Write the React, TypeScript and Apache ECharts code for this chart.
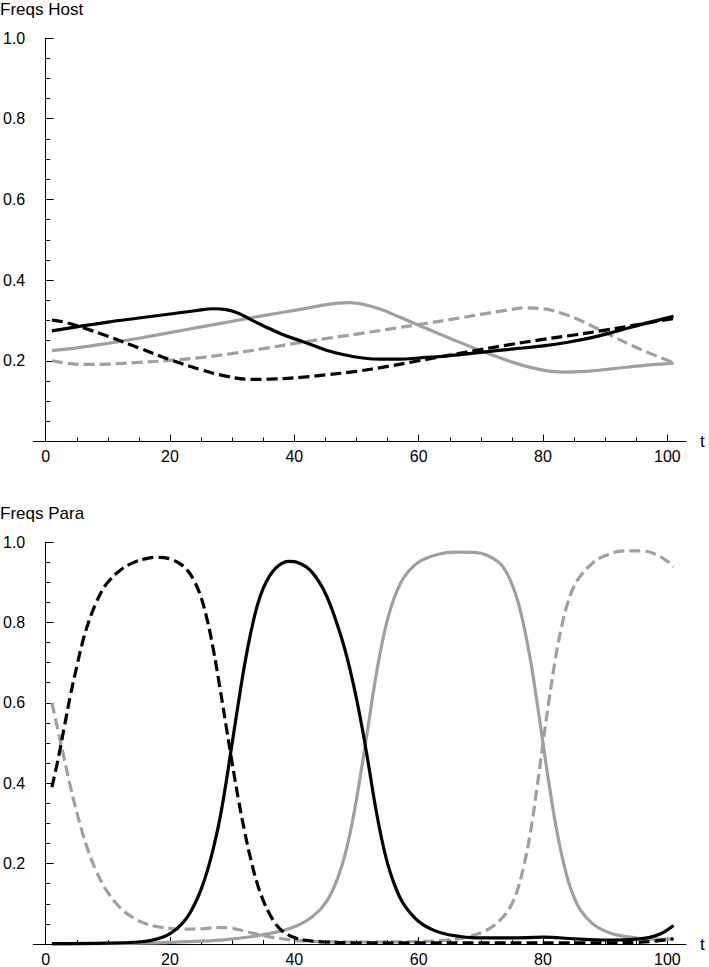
import React, { useEffect, useRef } from 'react';
import * as echarts from 'echarts';

// ---------- data ----------
const titles = ['Freqs Host', 'Freqs Para'];
const xAxisName = 't';
const majorXTicks = [0, 20, 40, 60, 80, 100];
const minorXTicks = [5, 10, 15, 25, 30, 35, 45, 50, 55, 65, 70, 75, 85, 90, 95];

// Host frequencies [t, value]
const hostBlackSolid = [
  [1, 0.274], [5, 0.284], [10, 0.296], [15, 0.306], [20, 0.316], [24, 0.324], [27, 0.329], [29, 0.327],
  [31, 0.318], [33, 0.302], [35, 0.287], [38, 0.266], [42, 0.244], [45, 0.227], [48, 0.215], [51, 0.207],
  [54, 0.204], [57, 0.204], [60, 0.207], [65, 0.213], [70, 0.221], [75, 0.229], [80, 0.237], [84, 0.246],
  [88, 0.258], [92, 0.274], [96, 0.291], [101, 0.31],
];
const hostBlackDashed = [
  [1, 0.301], [3, 0.296], [6, 0.282], [10, 0.261], [15, 0.232], [20, 0.203], [25, 0.178], [29, 0.162],
  [33, 0.154], [37, 0.155], [41, 0.159], [45, 0.165], [50, 0.174], [55, 0.186], [60, 0.2], [65, 0.214],
  [70, 0.228], [75, 0.241], [80, 0.253], [85, 0.264], [90, 0.276], [95, 0.289], [101, 0.305],
];
const hostGraySolid = [
  [1, 0.225], [5, 0.232], [10, 0.243], [15, 0.256], [20, 0.27], [25, 0.284], [30, 0.298], [35, 0.312],
  [40, 0.325], [44, 0.336], [47, 0.343], [49, 0.344], [51, 0.34], [54, 0.327], [57, 0.308], [60, 0.288],
  [65, 0.256], [70, 0.225], [75, 0.197], [79, 0.18], [83, 0.172], [87, 0.174], [91, 0.18], [96, 0.188],
  [101, 0.194],
];
const hostGrayDashed = [
  [1, 0.2], [4, 0.193], [7, 0.191], [10, 0.192], [15, 0.196], [20, 0.201], [25, 0.208], [30, 0.218],
  [35, 0.23], [40, 0.243], [45, 0.255], [50, 0.266], [55, 0.278], [60, 0.29], [65, 0.302], [70, 0.315],
  [74, 0.325], [77, 0.331], [80, 0.329], [83, 0.318], [86, 0.3], [90, 0.27], [95, 0.233], [101, 0.195],
];

// Parasite frequencies [t, value]
const paraBlackDashed = [
  [1, 0.39], [2, 0.46], [3, 0.54], [4, 0.62], [5, 0.69], [6, 0.755], [7, 0.805], [8, 0.845], [9, 0.877],
  [10, 0.9], [12, 0.93], [14, 0.948], [16, 0.958], [18, 0.962], [20, 0.958], [22, 0.942], [23, 0.926],
  [24, 0.9], [25, 0.862], [26, 0.805], [27, 0.73], [28, 0.64], [29, 0.545], [30, 0.45], [31, 0.36],
  [32, 0.28], [33, 0.21], [34, 0.152], [35, 0.108], [36, 0.075], [37, 0.05], [38, 0.033], [40, 0.016],
  [42, 0.009], [45, 0.005], [50, 0.003], [60, 0.003], [70, 0.003], [80, 0.003], [90, 0.003], [95, 0.004],
  [98, 0.007], [101, 0.013],
];
const paraBlackSolid = [
  [1, 0.001], [10, 0.002], [15, 0.005], [17, 0.009], [19, 0.018], [20, 0.026], [21, 0.037], [22, 0.052],
  [23, 0.072], [24, 0.1], [25, 0.136], [26, 0.182], [27, 0.24], [28, 0.31], [29, 0.4], [30, 0.5], [31, 0.6],
  [32, 0.695], [33, 0.775], [34, 0.84], [35, 0.885], [36, 0.915], [37, 0.935], [38, 0.947], [39, 0.952],
  [40, 0.951], [41, 0.946], [42, 0.937], [43, 0.922], [44, 0.9], [45, 0.872], [46, 0.835], [47, 0.79],
  [48, 0.74], [49, 0.68], [50, 0.61], [51, 0.53], [52, 0.44], [53, 0.345], [54, 0.265], [55, 0.2],
  [56, 0.152], [57, 0.115], [58, 0.09], [60, 0.056], [62, 0.037], [64, 0.026], [66, 0.02], [70, 0.015],
  [75, 0.015], [80, 0.017], [85, 0.013], [90, 0.01], [94, 0.011], [97, 0.016], [99, 0.026], [101, 0.046],
];
const paraGraySolid = [
  [1, 0.0005], [10, 0.001], [15, 0.002], [20, 0.004], [25, 0.007], [29, 0.011], [33, 0.018], [36, 0.026],
  [38, 0.033], [40, 0.043], [42, 0.058], [44, 0.083], [45, 0.102], [46, 0.128], [47, 0.165], [48, 0.213],
  [49, 0.278], [50, 0.36], [51, 0.455], [52, 0.555], [53, 0.655], [54, 0.74], [55, 0.808], [56, 0.858],
  [57, 0.895], [58, 0.92], [60, 0.95], [63, 0.969], [66, 0.975], [69, 0.974], [71, 0.967], [73, 0.948],
  [74, 0.928], [75, 0.895], [76, 0.85], [77, 0.785], [78, 0.705], [79, 0.605], [80, 0.5], [81, 0.395],
  [82, 0.3], [83, 0.222], [84, 0.16], [85, 0.116], [86, 0.085], [88, 0.05], [90, 0.032], [92, 0.022],
  [95, 0.015], [98, 0.012], [101, 0.012],
];
const paraGrayDashed = [
  [1, 0.6], [2, 0.53], [3, 0.46], [4, 0.39], [5, 0.328], [6, 0.272], [7, 0.225], [8, 0.186], [9, 0.154],
  [10, 0.128], [12, 0.09], [14, 0.066], [16, 0.051], [18, 0.043], [20, 0.039], [22, 0.037], [25, 0.038],
  [28, 0.041], [30, 0.039], [32, 0.032], [35, 0.021], [38, 0.013], [42, 0.007], [50, 0.005], [60, 0.006],
  [64, 0.009], [66, 0.012], [68, 0.018], [70, 0.028], [72, 0.045], [74, 0.075], [75, 0.1], [76, 0.14],
  [77, 0.2], [78, 0.28], [79, 0.385], [80, 0.5], [81, 0.61], [82, 0.71], [83, 0.79], [84, 0.85], [85, 0.89],
  [86, 0.915], [88, 0.948], [90, 0.966], [93, 0.978], [96, 0.978], [98, 0.97], [100, 0.952], [101, 0.938],
];

// ---------- styling ----------
const FONT = "'Liberation Sans', Arial, sans-serif";
const BLACK = '#000000';
const GRAY = '#a0a0a0';
const DASH = [11, 5];

function xAxesFor(gridIndex: number) {
  return [
    {
      type: 'value',
      gridIndex,
      position: 'bottom',
      min: -2,
      max: 103,
      name: xAxisName,
      nameLocation: 'end',
      nameGap: 14,
      nameTextStyle: { fontFamily: FONT, fontSize: 17, color: '#000' },
      axisLine: { show: true, onZero: true, lineStyle: { color: '#000', width: 1 } },
      axisTick: { show: true, inside: true, length: 7, customValues: majorXTicks, lineStyle: { color: '#000' } },
      axisLabel: {
        show: true,
        customValues: majorXTicks,
        margin: 7,
        fontFamily: FONT,
        fontSize: 16,
        color: '#000',
      },
      splitLine: { show: false },
    },
    {
      type: 'value',
      gridIndex,
      position: 'bottom',
      min: -2,
      max: 103,
      axisLine: { show: false },
      axisTick: { show: true, inside: true, length: 4, customValues: minorXTicks, lineStyle: { color: '#000' } },
      axisLabel: { show: false },
      splitLine: { show: false },
    },
  ];
}

function yAxisFor(gridIndex: number) {
  return {
    type: 'value',
    gridIndex,
    min: 0,
    max: 1,
    interval: 0.2,
    axisLine: { show: true, onZero: true, lineStyle: { color: '#000', width: 1 } },
    axisTick: { show: true, inside: true, length: 8, lineStyle: { color: '#000' } },
    minorTick: { show: true, splitNumber: 4, length: 4.5, lineStyle: { color: '#000' } },
    axisLabel: {
      margin: 8,
      fontFamily: FONT,
      fontSize: 16,
      color: '#000',
      formatter: (v: number) => (v === 0 ? '' : v.toFixed(1)),
    },
    splitLine: { show: false },
  };
}

function lineSeries(data: number[][], color: string, dashed: boolean, xAxisIndex: number, yAxisIndex: number) {
  return {
    type: 'line',
    data,
    xAxisIndex,
    yAxisIndex,
    showSymbol: false,
    symbol: 'none',
    smooth: 0.4,
    clip: false,
    lineStyle: { color, width: 3.2, type: dashed ? DASH : 'solid', cap: 'butt', join: 'round' },
    emphasis: { disabled: true },
  };
}

export default function App() {
  const ref = useRef<HTMLDivElement>(null);

  useEffect(() => {
    if (!ref.current) return;
    const chart = echarts.init(ref.current, undefined, { renderer: 'svg' });
    const option = {
      animation: false,
      backgroundColor: '#ffffff',
      title: [
        {
          text: titles[0],
          left: 0,
          top: 1,
          padding: 0,
          textStyle: { fontFamily: FONT, fontSize: 17, fontWeight: 'normal', color: '#000' },
        },
        {
          text: titles[1],
          left: 0,
          top: 505,
          padding: 0,
          textStyle: { fontFamily: FONT, fontSize: 17, fontWeight: 'normal', color: '#000' },
        },
      ],
      grid: [
        { left: 30, top: 38, width: 656, height: 403.5, containLabel: false },
        { left: 30, top: 542, width: 656, height: 403.5, containLabel: false },
      ],
      xAxis: [...xAxesFor(0), ...xAxesFor(1)],
      yAxis: [yAxisFor(0), yAxisFor(1)],
      series: [
        lineSeries(hostGraySolid, GRAY, false, 0, 0),
        lineSeries(hostGrayDashed, GRAY, true, 0, 0),
        lineSeries(hostBlackSolid, BLACK, false, 0, 0),
        lineSeries(hostBlackDashed, BLACK, true, 0, 0),
        lineSeries(paraGraySolid, GRAY, false, 2, 1),
        lineSeries(paraGrayDashed, GRAY, true, 2, 1),
        lineSeries(paraBlackSolid, BLACK, false, 2, 1),
        lineSeries(paraBlackDashed, BLACK, true, 2, 1),
      ],
    };
    chart.setOption(option as any);
    return () => chart.dispose();
  }, []);

  return (
    <div
      ref={ref}
      style={{ position: 'fixed', left: 0, top: 0, width: 709, height: 967, background: '#fff' }}
    />
  );
}
